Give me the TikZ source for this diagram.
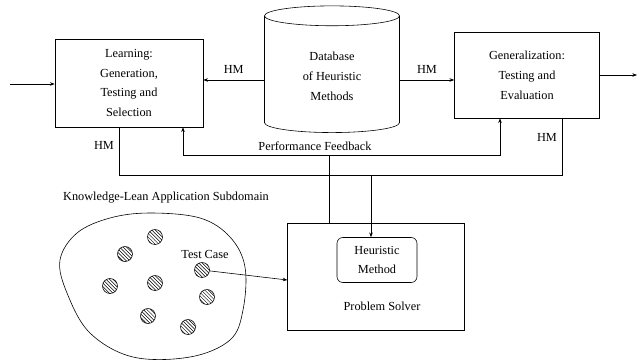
\documentclass[tikz,border=0pt]{standalone}
\usepackage{fontspec}
\setmainfont{Liberation Serif}
\usetikzlibrary{arrows.meta, positioning, shapes.geometric, patterns}

\begin{document}
\begin{tikzpicture}[
    x=0.03cm, y=-0.03cm,
    font=\fontsize{10.5}{17}\selectfont,
    line width=0.5pt,
    box/.style={draw, align=center, inner sep=2pt},
    dbase/.style={draw, cylinder, shape border rotate=90, aspect=0.3, align=center,
        minimum width=4.05cm, minimum height=3.8cm},
    inner/.style={draw, rounded corners=5pt, align=center, minimum width=2.4cm, minimum height=1.35cm},
    case/.style={draw, circle, minimum size=0.45cm, inner sep=0pt, pattern=north west lines},
    arrow/.style={-{Stealth[length=4pt, width=3pt]}}
]
\useasboundingbox (0,0) rectangle (639,363);

% upper row
\node[box, minimum width=4.44cm, minimum height=2.64cm] (learn) at (129,83) {Learning:\\Generation,\\Testing and\\Selection};
\node[dbase] (db) at (332,76) {Database\\of Heuristic\\Methods};
\node[box, minimum width=4.35cm, minimum height=2.58cm] (gen) at (527,75) {Generalization:\\Testing and\\Evaluation};

\coordinate (in) at (10,84);
\coordinate (out) at (637,75);
\draw[arrow] (in) -- (learn.west |- in);
\draw[arrow] (gen.east) -- (out);
\draw[arrow] (db.west |- 0,80) -- (learn.east |- 0,80) node[midway, above=2pt] {HM};
\draw[arrow] (db.east |- 0,80) -- (gen.west |- 0,80) node[midway, above=2pt] {HM};

% problem solver
\node[draw, minimum width=5.3cm, minimum height=3.21cm] (ps) at (376,277) {};
\node[inner] (hm) at (377,260) {Heuristic\\Method};
\node (pslabel) at (382,306) {Problem Solver};

% feedback
\coordinate (fb) at (329,155);
\coordinate (fbL) at (183,155);
\coordinate (fbR) at (500,155);
\draw (ps.north -| fb) -- (fb);
\draw[arrow] (fb) -- (fbL) -- (learn.south -| fbL);
\draw[arrow] (fb) -- (fbR) -- (gen.south -| fbR);
\node (fblabel) at (315,146) {Performance Feedback};

% heuristic methods to solver
\coordinate (hmL) at (119,175);
\coordinate (hmR) at (562,175);
\coordinate (hmM) at (371,175);
\draw (learn.south -| hmL) -- (hmL) -- (hmR) -- (gen.south -| hmR);
\draw[arrow] (hmM) -- (hm.north -| hmM);
\node (hmlabelL) at (104,145) {HM};
\node (hmlabelR) at (547,137) {HM};

% application subdomain
\node (domain) at (166,198) {Knowledge-Lean Application Subdomain};
\draw plot[smooth cycle, tension=0.6] coordinates {
    (150,213) (200,218) (230,237) (245,267) (243,310) (230,340) (190,357)
    (133,357) (90,333) (67,293) (60,260) (77,233) (110,218)};
\foreach \px/\py [count=\i] in {155/237, 125/254, 110/286, 155/283, 207/297, 148/316, 188/327}
    \node[case] (c\i) at (\px,\py) {};
\node[case] (test) at (202,270) {};
\node (testlabel) at (205,254) {Test Case};
\draw[arrow] (test) -- (ps.west |- 0,280);
\end{tikzpicture}
\end{document}
